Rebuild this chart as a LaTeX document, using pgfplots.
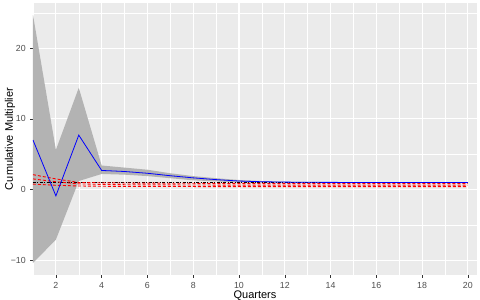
\documentclass[border=0pt]{standalone}
\usepackage{pgfplots}
\pgfplotsset{compat=1.18}
\usepackage{fontspec}
\setmainfont{Liberation Sans}
\definecolor{ggbg}{HTML}{EBEBEB}
\definecolor{ggband}{HTML}{B3B3B3}
\definecolor{ggtick}{HTML}{333333}
\definecolor{ggtext}{HTML}{4D4D4D}
\begin{document}
\begin{tikzpicture}
\path[use as bounding box] (-33bp,-25bp) rectangle (447bp,275bp);
\begin{axis}[
  scale only axis, width=444bp, height=272bp,
  at={(0,0)}, anchor=south west,
  xmin=1, xmax=20.4, ymin=-12.1, ymax=26.4,
  axis background/.style={fill=ggbg},
  axis line style={draw=none},
  tick pos=left, tick align=outside,
  major tick length=2.75bp, minor tick length=0bp,
  every tick/.style={ggtick, line width=0.5bp},
  xtick={2,4,...,20}, xticklabels={2,4,6,8,10,12,14,16,18,20},
  minor xtick={1,3,...,19},
  ytick={-10,0,10,20}, yticklabels={−10,0,10,20},
  minor ytick={-5,5,15,25},
  grid=both,
  major grid style={white, line width=1.07bp},
  minor grid style={white, line width=0.53bp},
  xticklabel style={font=\fontsize{8.8bp}{10bp}\selectfont, text=ggtext, inner sep=1bp, yshift=-3.6bp},
  yticklabel style={font=\fontsize{8.8bp}{10bp}\selectfont, text=ggtext, xshift=-1bp},
  xlabel={Quarters}, ylabel={Cumulative Multiplier},
  every axis x label/.style={at={(axis description cs:0.5,0)}, anchor=center, inner sep=0pt, yshift=-21bp, font=\fontsize{11bp}{13bp}\selectfont},
  every axis y label/.style={at={(axis description cs:0,0.5)}, rotate=90, anchor=center, yshift=23bp, font=\fontsize{11bp}{13bp}\selectfont},
  clip=true,
]
% confidence band
\addplot[draw=none, fill=ggband] coordinates {
 (1,24.7) (2,5.6) (3,14.4) (4,3.4) (5,3.1) (6,2.8) (7,2.3) (8,1.9) (9,1.6) (10,1.35)
 (11,1.2) (12,1.1) (13,1.06) (14,1.04) (15,1.03) (16,1.02) (17,1.02) (18,1.02) (19,1.02) (20,1.02)
 (20,0.95) (19,0.95) (18,0.95) (17,0.95) (16,0.95) (15,0.95) (14,0.95) (13,0.95) (12,0.96) (11,0.98)
 (10,1.0) (9,1.15) (8,1.3) (7,1.6) (6,1.9) (5,2.1) (4,2.2) (3,1.2) (2,-7.1) (1,-10.4)
} -- cycle;
% reference line at 1
\addplot[black, line width=0.5bp, dash pattern=on 3bp off 1.5bp on 0.8bp off 1.5bp] coordinates {(1,1.0) (20,1.0)};
% red dashed lines
\addplot[red, line width=0.9bp, dash pattern=on 3bp off 2bp] coordinates {
 (1,2.1) (2,1.5) (3,1.0) (4,0.95) (5,0.92) (6,0.9) (7,0.89) (8,0.88) (9,0.87) (10,0.86)
 (11,0.86) (12,0.85) (13,0.85) (14,0.85) (15,0.85) (16,0.85) (17,0.85) (18,0.85) (19,0.85) (20,0.85)};
\addplot[red, line width=0.9bp, dash pattern=on 3bp off 2bp] coordinates {
 (1,1.5) (2,1.1) (3,0.8) (4,0.72) (5,0.68) (6,0.66) (7,0.65) (8,0.64) (9,0.63) (10,0.63)
 (11,0.62) (12,0.62) (13,0.62) (14,0.62) (15,0.62) (16,0.62) (17,0.62) (18,0.62) (19,0.62) (20,0.62)};
\addplot[red, line width=0.9bp, dash pattern=on 3bp off 2bp] coordinates {
 (1,0.76) (2,0.6) (3,0.5) (4,0.46) (5,0.44) (6,0.43) (7,0.42) (8,0.42) (9,0.41) (10,0.41)
 (11,0.4) (12,0.4) (13,0.4) (14,0.4) (15,0.4) (16,0.4) (17,0.4) (18,0.4) (19,0.4) (20,0.4)};
% point estimate
\addplot[blue, line width=0.8bp] coordinates {
 (1,7.0) (2,-0.9) (3,7.7) (4,2.7) (5,2.55) (6,2.3) (7,1.95) (8,1.65) (9,1.4) (10,1.2)
 (11,1.1) (12,1.05) (13,1.02) (14,1.01) (15,1.0) (16,1.0) (17,1.0) (18,1.0) (19,1.0) (20,1.0)};
\end{axis}
\end{tikzpicture}
\end{document}
